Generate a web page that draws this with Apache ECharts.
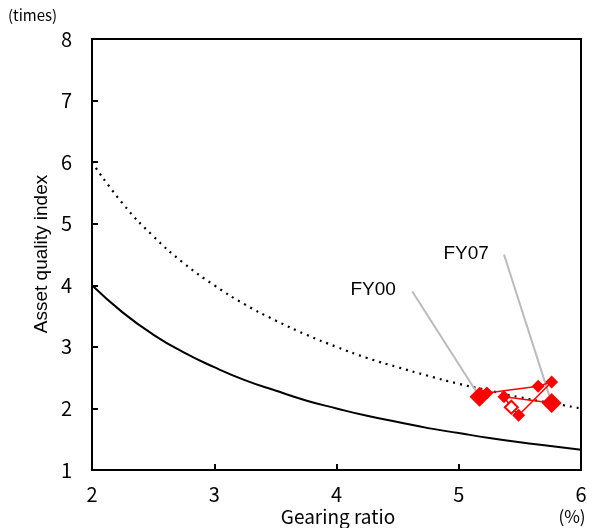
<!DOCTYPE html>
<html><head><meta charset="utf-8">
<script src="https://cdn.jsdelivr.net/npm/echarts@6/dist/echarts.min.js"></script>
<style>html,body{margin:0;padding:0;background:#fff}#c{width:593px;height:528px}</style>
</head><body><div id="c"></div>
<script>
const xTicks = [2, 3, 4, 5, 6];
const yTicks = [1, 2, 3, 4, 5, 6, 7, 8];
const curveX = [2, 2.25, 2.5, 2.75, 3, 3.25, 3.5, 3.75, 4, 4.25, 4.5, 4.75, 5, 5.25, 5.5, 5.75, 6];
const solidY = [4, 3.56, 3.2, 2.91, 2.67, 2.46, 2.29, 2.13, 2, 1.88, 1.78, 1.68, 1.6, 1.52, 1.45, 1.39, 1.33];
const dottedY = [6, 5.33, 4.8, 4.36, 4, 3.69, 3.43, 3.2, 3, 2.82, 2.67, 2.53, 2.4, 2.29, 2.18, 2.09, 2];
const years = ['FY00', 'FY01', 'FY02', 'FY03', 'FY04', 'FY05', 'FY06', 'FY07'];
const gearing = [5.17, 5.23, 5.65, 5.76, 5.49, 5.43, 5.37, 5.76];
const quality = [2.19, 2.25, 2.36, 2.43, 1.89, 2.02, 2.19, 2.09];
const labelPos = { FY00: [4.3, 3.92], FY07: [5.06, 4.52] };
const leaderStart = { FY00: [4.62, 3.9], FY07: [5.37, 4.5] };

const font = 'Noto Sans CJK JP';
const arial = 'Liberation Sans';
const chart = echarts.init(document.getElementById('c'));
const zip = (a, b) => a.map((v, i) => [v, b[i]]);
const ptData = gearing.map((g, i) => {
  const big = i === 0 || i === years.length - 1;
  const hollow = years[i] === 'FY05';
  return {
    value: [g, quality[i]],
    symbolSize: big ? 20 : 13,
    itemStyle: hollow ? { color: '#fff', borderColor: '#ff0000', borderWidth: 2 } : { color: '#ff0000' }
  };
});
const leaders = ['FY00', 'FY07'].map(k => {
  const i = years.indexOf(k);
  return [{ coord: leaderStart[k] }, { coord: [gearing[i], quality[i]] }];
});
chart.setOption({
  animation: false,
  textStyle: { fontFamily: font },
  grid: { left: 92, right: 12, top: 39, bottom: 58, show: true, borderColor: '#000', borderWidth: 2 },
  xAxis: {
    type: 'value', min: 2, max: 6, interval: 1,
    axisLine: { lineStyle: { color: '#000', width: 2 } },
    axisTick: { inside: true, length: 6, lineStyle: { color: '#000', width: 2 } },
    axisLabel: { color: '#000', fontSize: 20, margin: 14, fontFamily: font },
    splitLine: { show: false }
  },
  yAxis: {
    type: 'value', min: 1, max: 8, interval: 1,
    axisLine: { lineStyle: { color: '#000', width: 2 } },
    axisTick: { inside: true, length: 6, lineStyle: { color: '#000', width: 2 } },
    axisLabel: { color: '#000', fontSize: 20, margin: 20, fontFamily: font },
    splitLine: { show: false }
  },
  graphic: [
    { type: 'text', left: 8, top: 8, style: { text: '(times)', fontSize: 15, fill: '#000', fontFamily: font } },
    { type: 'text', x: 338, y: 517, style: { text: 'Gearing ratio', fontSize: 19, fill: '#000', fontFamily: font, textAlign: 'center', textVerticalAlign: 'middle' } },
    { type: 'text', x: 572, y: 517, style: { text: '(%)', fontSize: 17, fill: '#000', fontFamily: font, textAlign: 'center', textVerticalAlign: 'middle' } },
    { type: 'text', x: 42, y: 254, rotation: Math.PI / 2, style: { text: 'Asset quality index', fontSize: 19, fill: '#000', fontFamily: arial, textAlign: 'center', textVerticalAlign: 'middle' } }
  ],
  series: [
    { type: 'line', data: zip(curveX, solidY), smooth: true, symbol: 'none', lineStyle: { color: '#000', width: 2 } },
    { type: 'line', data: zip(curveX, dottedY), smooth: true, symbol: 'none', lineStyle: { color: '#000', width: 2.2, type: [2, 5] } },
    {
      type: 'line', data: ptData, symbol: 'diamond', lineStyle: { color: '#ff0000', width: 1.5 }, z: 5,
      markLine: {
        silent: true, symbol: 'none', label: { show: false },
        lineStyle: { color: '#bbb', width: 2, type: 'solid' }, data: leaders
      },
      markPoint: {
        silent: true, symbol: 'circle', symbolSize: 1, itemStyle: { color: 'rgba(0,0,0,0)' },
        label: { show: true, position: 'inside', formatter: p => p.name, color: '#000', fontSize: 19, fontFamily: arial, opacity: 1 },
        data: ['FY00', 'FY07'].map(k => ({ coord: labelPos[k], name: k }))
      }
    }
  ]
});
</script></body></html>
